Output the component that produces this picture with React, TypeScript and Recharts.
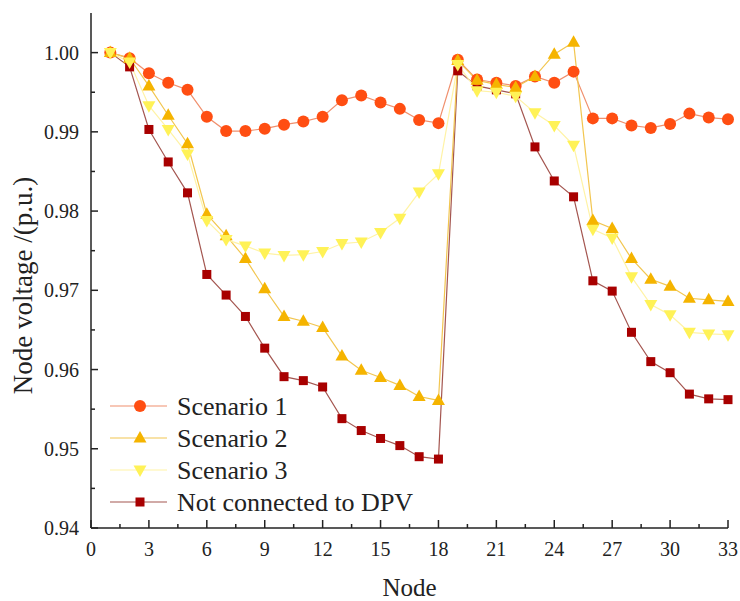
import React from "react";
import { LineChart, Line, XAxis, YAxis, Legend } from "recharts";

const nodes = [1, 2, 3, 4, 5, 6, 7, 8, 9, 10, 11, 12, 13, 14, 15, 16, 17, 18, 19, 20, 21, 22, 23, 24, 25, 26, 27, 28, 29, 30, 31, 32, 33];

const scenario1 = [1.0, 0.9993, 0.9974, 0.9962, 0.9953, 0.9919, 0.9901, 0.9901, 0.9904, 0.9909, 0.9913, 0.9919, 0.994, 0.9946, 0.9937, 0.9929, 0.9915, 0.9911, 0.9991, 0.9966, 0.9962, 0.9958, 0.997, 0.9962, 0.9976, 0.9917, 0.9917, 0.9908, 0.9905, 0.991, 0.9923, 0.9918, 0.9916];

const scenario2 = [1.0, 0.9993, 0.9958, 0.9921, 0.9885, 0.9796, 0.9769, 0.974, 0.9702, 0.9667, 0.9661, 0.9653, 0.9617, 0.9599, 0.959, 0.958, 0.9566, 0.9561, 0.999, 0.9965, 0.996, 0.9956, 0.997, 0.9998, 1.0013, 0.9788, 0.9778, 0.974, 0.9714, 0.9705, 0.969, 0.9688, 0.9686];

const scenario3 = [1.0, 0.9988, 0.9933, 0.9903, 0.9872, 0.9788, 0.9764, 0.9756, 0.9747, 0.9744, 0.9745, 0.9749, 0.9759, 0.9761, 0.9773, 0.9791, 0.9824, 0.9847, 0.9985, 0.9952, 0.995, 0.9945, 0.9924, 0.9908, 0.9883, 0.9777, 0.9766, 0.9717, 0.9682, 0.9669, 0.9647, 0.9645, 0.9644];

const notConnected = [1.0, 0.9982, 0.9903, 0.9862, 0.9823, 0.972, 0.9694, 0.9667, 0.9627, 0.9591, 0.9586, 0.9578, 0.9538, 0.9523, 0.9513, 0.9504, 0.949, 0.9487, 0.9977, 0.9958, 0.9953, 0.9948, 0.9881, 0.9838, 0.9818, 0.9712, 0.9699, 0.9647, 0.961, 0.9596, 0.9569, 0.9563, 0.9562];

const xMajorTicks = [0, 3, 6, 9, 12, 15, 18, 21, 24, 27, 30, 33];
const xMinorTicks = [1.5, 4.5, 7.5, 10.5, 13.5, 16.5, 19.5, 22.5, 25.5, 28.5, 31.5];
const yMajorTicks = [0.94, 0.95, 0.96, 0.97, 0.98, 0.99, 1.0];
const yMinorTicks = [0.945, 0.955, 0.965, 0.975, 0.985, 0.995];

const seriesNames = ["Scenario 1", "Scenario 2", "Scenario 3", "Not connected to DPV"];

const data = nodes.map((n, i) => ({
  node: n,
  s1: scenario1[i],
  s2: scenario2[i],
  s3: scenario3[i],
  s4: notConnected[i],
}));

const FONT = '"Liberation Serif", "Times New Roman", serif';
const textStyle = { fontFamily: FONT };

type MarkerKind = "circle" | "up" | "down" | "square";

const series = [
  { key: "s1", name: seriesNames[0], marker: "circle" as MarkerKind, fill: "#FF4E12", line: "#F0906E" },
  { key: "s2", name: seriesNames[1], marker: "up" as MarkerKind, fill: "#F5B400", line: "#F2C650" },
  { key: "s3", name: seriesNames[2], marker: "down" as MarkerKind, fill: "#FFF257", line: "#FFF3A6" },
  { key: "s4", name: seriesNames[3], marker: "square" as MarkerKind, fill: "#A80000", line: "#A45650" },
];

function Marker({ kind, cx, cy, fill }: { kind: MarkerKind; cx: number; cy: number; fill: string }) {
  if (kind === "circle") return <circle cx={cx} cy={cy} r={6} fill={fill} />;
  if (kind === "up")
    return <polygon points={`${cx},${cy - 7} ${cx - 6.5},${cy + 4.5} ${cx + 6.5},${cy + 4.5}`} fill={fill} />;
  if (kind === "down")
    return <polygon points={`${cx},${cy + 7} ${cx - 6.5},${cy - 4.5} ${cx + 6.5},${cy - 4.5}`} fill={fill} />;
  return <rect x={cx - 4.5} y={cy - 4.5} width={9} height={9} fill={fill} />;
}

const makeDot = (kind: MarkerKind, fill: string) => (props: any) => {
  const { cx, cy, index } = props;
  if (cx == null || cy == null) return <g key={`e-${index}`} />;
  return (
    <g key={`${kind}-${index}`}>
      <Marker kind={kind} cx={cx} cy={cy} fill={fill} />
    </g>
  );
};

const XTick = (props: any) => {
  const { x, y, payload } = props;
  const v = payload.value;
  const major = xMajorTicks.includes(v);
  return (
    <g>
      <line x1={x} x2={x} y1={y} y2={y - (major ? 8 : 4)} stroke="#222" strokeWidth={1.5} />
      {major && (
        <text x={x} y={y + 28} textAnchor="middle" style={textStyle} fontSize={20} fill="#222">
          {v}
        </text>
      )}
    </g>
  );
};

const YTick = (props: any) => {
  const { x, y, payload } = props;
  const v = payload.value;
  const major = yMajorTicks.some((t) => Math.abs(t - v) < 1e-9);
  return (
    <g>
      <line x1={x} x2={x + (major ? 7 : 4)} y1={y} y2={y} stroke="#222" strokeWidth={1.5} />
      {major && (
        <text x={x - 12} y={y} dy="0.35em" textAnchor="end" style={textStyle} fontSize={20} fill="#222">
          {v.toFixed(2)}
        </text>
      )}
    </g>
  );
};

const YLabel = (props: any) => {
  const vb = props.viewBox || {};
  const cy = (vb.y || 0) + (vb.height || 0) / 2 + 15;
  const cx = 32;
  return (
    <text
      x={cx}
      y={cy}
      transform={`rotate(-90, ${cx}, ${cy})`}
      textAnchor="middle"
      style={textStyle}
      fontSize={27}
      fill="#222"
    >
      Node voltage /(p.u.)
    </text>
  );
};

const XLabel = (props: any) => {
  const vb = props.viewBox || {};
  const cx = (vb.x || 0) + (vb.width || 0) / 2;
  return (
    <text x={cx} y={(vb.y || 0) + 68} textAnchor="middle" style={textStyle} fontSize={25} fill="#222">
      Node
    </text>
  );
};

const LegendContent = () => (
  <svg width={330} height={132} style={{ display: "block" }}>
    {series.map((s, i) => {
      const cy = 16 + i * 32;
      return (
        <g key={s.key}>
          <line x1={10} x2={67} y1={cy} y2={cy} stroke={s.line} strokeWidth={1.2} />
          <Marker kind={s.marker} cx={40} cy={cy} fill={s.fill} />
          <text x={77} y={cy} dy="0.35em" style={textStyle} fontSize={26} fill="#222">
            {s.name}
          </text>
        </g>
      );
    })}
  </svg>
);

export default function App() {
  return (
    <div style={{ position: "absolute", left: 0, top: 0, width: 740, height: 601, background: "#fff", fontFamily: FONT }}>
      <LineChart width={740} height={601} data={data} margin={{ top: 13, right: 12, bottom: 0, left: 0 }} style={{ fontFamily: FONT }}>
        <XAxis
          dataKey="node"
          type="number"
          domain={[0, 33]}
          ticks={[...xMajorTicks, ...xMinorTicks].sort((a, b) => a - b)}
          interval={0}
          tickSize={0}
          tickMargin={0}
          tickLine={false}
          tick={<XTick />}
          axisLine={{ stroke: "#222", strokeWidth: 1.5 }}
          height={73}
          label={<XLabel />}
        />
        <YAxis
          type="number"
          domain={[0.94, 1.005]}
          ticks={[...yMajorTicks, ...yMinorTicks].sort((a, b) => a - b)}
          interval={0}
          tickSize={0}
          tickMargin={0}
          tickLine={false}
          tick={<YTick />}
          axisLine={{ stroke: "#222", strokeWidth: 1.5 }}
          width={91}
          label={<YLabel />}
        />
        <Legend
          layout="vertical"
          align="center"
          verticalAlign="middle"
          content={<LegendContent />}
          wrapperStyle={{ left: 100, top: 390, width: 330, height: 132 }}
        />
        {[series[3], series[0], series[1], series[2]].map((s) => (
          <Line
            key={s.key}
            type="linear"
            dataKey={s.key}
            name={s.name}
            stroke={s.line}
            strokeWidth={1.2}
            dot={makeDot(s.marker, s.fill)}
            activeDot={false}
            isAnimationActive={false}
          />
        ))}
      </LineChart>
    </div>
  );
}
